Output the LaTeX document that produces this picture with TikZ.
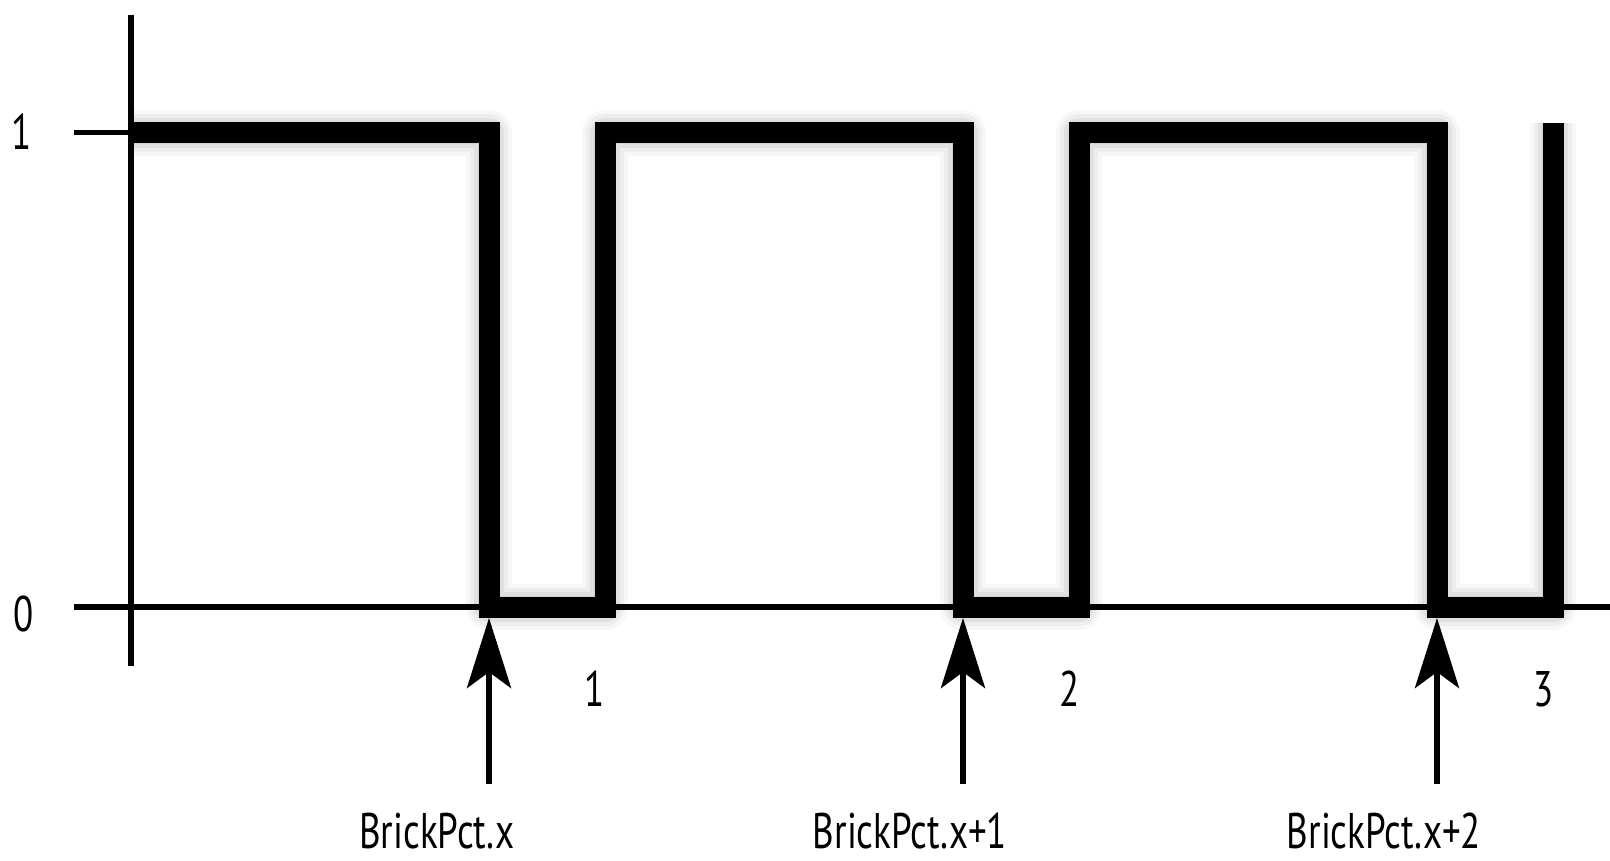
\documentclass[tikz,border=0pt]{standalone}
\usepackage{fontspec}
\setmainfont{PT Sans}[FakeStretch=0.74]
\usetikzlibrary{arrows.meta}
\tikzset{
  wavestyle/.style={line width=21pt, line join=miter, line cap=butt, black},
  thinline/.style={line width=6pt, black},
  lbl/.style={font=\fontsize{50}{60}\selectfont, inner sep=0pt, text=black},
  pointer/.style={line width=6pt, black, -{Stealth[length=70pt,width=44pt,inset=16pt]}},
}
\begin{document}
\begin{tikzpicture}[x=1pt,y=-1pt]
\useasboundingbox[fill=white] (0,0) rectangle (1610,861);
% coordinates
\coordinate (ytop) at (131,15);
\coordinate (ybot) at (131,666);
\coordinate (t1a) at (74,133);
\coordinate (t1b) at (131,133);
\coordinate (x0a) at (74,607);
\coordinate (x0b) at (1610,607);
\coordinate (s) at (131,133);
\coordinate (f1t) at (489,133); \coordinate (f1b) at (489,607);
\coordinate (r1b) at (605,607); \coordinate (r1t) at (605,133);
\coordinate (f2t) at (963,133); \coordinate (f2b) at (963,607);
\coordinate (r2b) at (1079,607); \coordinate (r2t) at (1079,133);
\coordinate (f3t) at (1437,133); \coordinate (f3b) at (1437,607);
\coordinate (r3b) at (1553,607); \coordinate (r3t) at (1553,123);
\coordinate (tip1) at (489,618); \coordinate (tail1) at (489,784);
\coordinate (tip2) at (963,618); \coordinate (tail2) at (963,784);
\coordinate (tip3) at (1437,618); \coordinate (tail3) at (1437,784);
% soft shadow (below / right of the wave)
\foreach \w/\o in {46/0.03,38/0.04,30/0.05,22/0.06}{
  \draw[line width=\w pt, black, opacity=\o, line join=round, shift={(11,12)}]
    (s) -- (f1t) -- (f1b) -- (r1b) -- (r1t) -- (f2t) -- (f2b) -- (r2b) -- (r2t)
    -- (f3t) -- (f3b) -- (r3b) -- (r3t);
}
% axes
\draw[thinline] (ytop) -- (ybot);
\draw[thinline, line width=5pt] (t1a) -- (t1b);
\draw[thinline] (x0a) -- (x0b);
% square wave
\draw[wavestyle] (s) -- (f1t) -- (f1b) -- (r1b) -- (r1t) -- (f2t) -- (f2b) -- (r2b) -- (r2t)
    -- (f3t) -- (f3b) -- (r3b) -- (r3t);
% arrows
\draw[pointer] (tail1) -- (tip1);
\draw[pointer] (tail2) -- (tip2);
\draw[pointer] (tail3) -- (tip3);
% labels
\node[lbl] (y1) at (22,131.5) {1};
\node[lbl] (y0) at (24,613.5) {0};
\node[lbl] (n1) at (595,689) {1};
\node[lbl] (n2) at (1069.5,688.5) {2};
\node[lbl] (n3) at (1544,689.5) {3};
\node[lbl, anchor=base] (b1) at (437,848) {BrickPct.x};
\node[lbl, anchor=base] (b2) at (910,848) {BrickPct.x+1};
\node[lbl, anchor=base] (b3) at (1384,848) {BrickPct.x+2};
\end{tikzpicture}
\end{document}
